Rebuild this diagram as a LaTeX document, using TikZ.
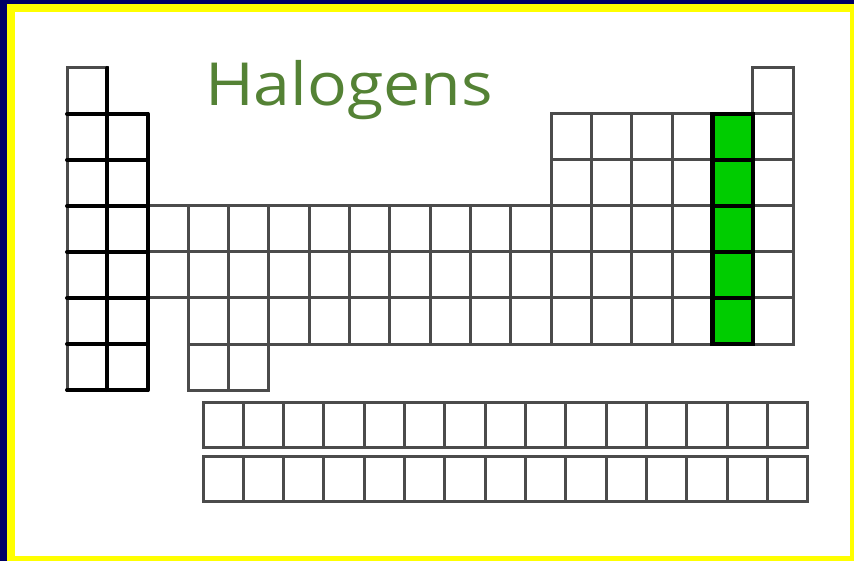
\documentclass[tikz,border=0pt]{standalone}
\usepackage{fontspec}
\setmainfont{Open Sans}
\definecolor{navy}{RGB}{0,0,102}
\definecolor{frameyellow}{RGB}{255,255,0}
\definecolor{gridgray}{RGB}{75,75,75}
\definecolor{halgreen}{RGB}{0,204,0}
\definecolor{titlegreen}{RGB}{84,130,53}
\tikzset{
  cellbox/.style={draw=gridgray, line width=3pt},
  boldline/.style={draw=black, line width=4pt, line cap=round},
  halbox/.style={draw=black, fill=halgreen, line width=4.4pt},
  title/.style={text=titlegreen, font=\fontsize{45}{50}\selectfont, inner sep=0pt, anchor=base}
}
\newcommand{\cw}{40.35}
\newcommand{\rh}{46}
\begin{document}
\begin{tikzpicture}[x=1pt,y=-1pt]
\useasboundingbox (0,0) rectangle (854,561);
% frame
\fill[navy] (0,0) rectangle (854,561);
\fill[frameyellow] (7,4) rectangle (854,561);
\fill[white] (15,12) rectangle (850,556);
% main table cells
\foreach \r/\cols in {1/{1,18},2/{1,2,13,14,15,16,17,18},3/{1,2,13,14,15,16,17,18},
  4/{1,...,18},5/{1,...,18},6/{1,2,4,5,6,7,8,9,10,11,12,13,14,15,16,17,18},7/{1,2,4,5}}{
  \foreach \c in \cols {
    \draw[cellbox] ({67+(\c-1)*\cw},{68+(\r-1)*\rh}) rectangle ++(\cw,\rh);
  }
}
% bold lines of groups 1 and 2
\draw[boldline] ({67+\cw},68) -- ({67+\cw},{68+7*\rh});
\draw[boldline] ({67+2*\cw},{68+\rh}) -- ({67+2*\cw},{68+7*\rh});
\foreach \r in {1,...,7}{
  \draw[boldline] (67,{68+\r*\rh}) -- ({67+2*\cw},{68+\r*\rh});
}
% halogens
\foreach \r in {2,...,6}{
  \draw[halbox] ({67+16*\cw},{68+(\r-1)*\rh}) rectangle ++(\cw,\rh);
}
% lanthanides and actinides
\foreach \y in {402,456}{
  \foreach \c in {0,...,14}{
    \draw[cellbox] ({203+\c*40.33},\y) rectangle ++(40.33,45.5);
  }
}
% title
\node[title] (t) at (349,106) {\scalebox{1.47}[1.32]{Halogens}};
\end{tikzpicture}
\end{document}
